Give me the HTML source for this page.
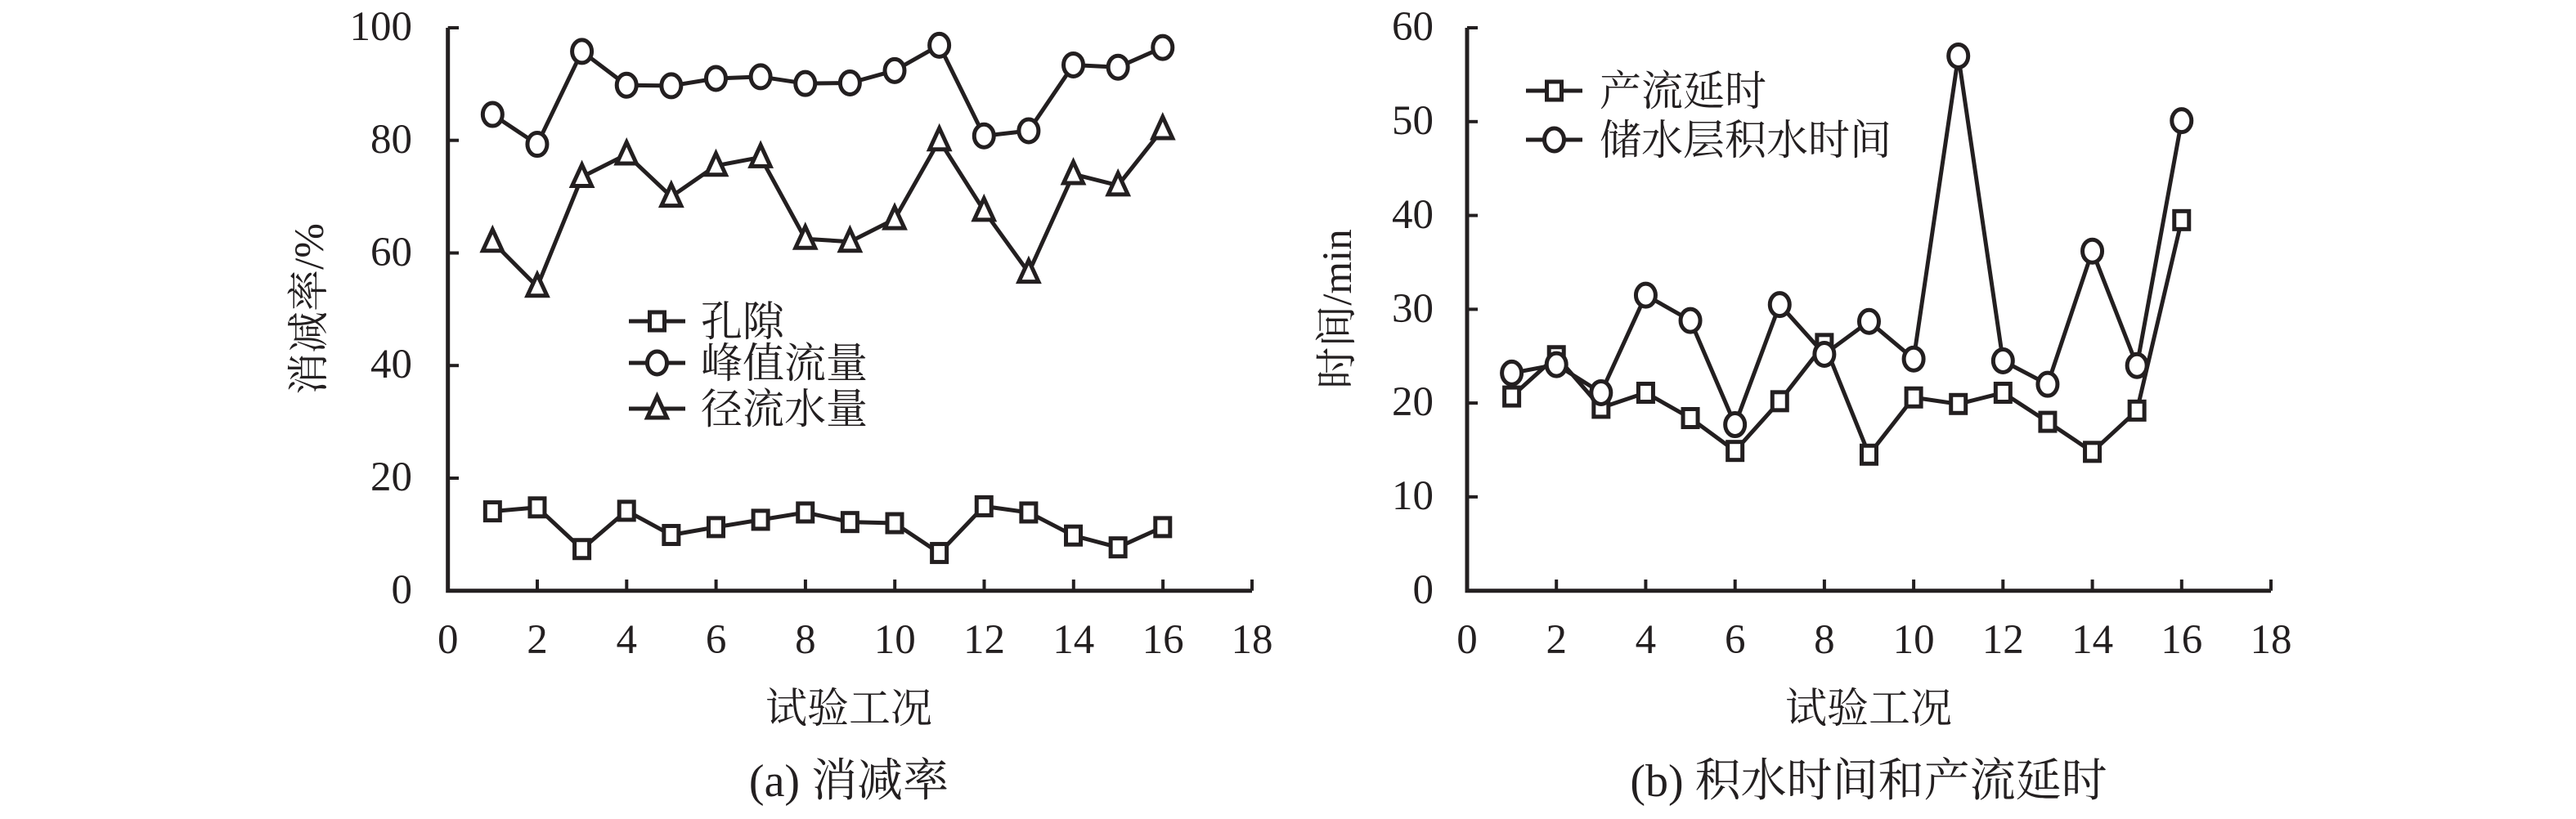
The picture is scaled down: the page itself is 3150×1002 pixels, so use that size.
<!DOCTYPE html>
<html><head><meta charset="utf-8"><style>
html,body{margin:0;padding:0;background:#fff;}
svg{display:block;}
text{font-family:"Liberation Serif","Noto Serif CJK SC",serif;fill:#231f20;}
</style></head><body>
<svg width="3150" height="1002" viewBox="0 0 3150 1002" xmlns="http://www.w3.org/2000/svg">
<g id="left">
<path d="M547.7 34 V722.7 H1531" fill="none" stroke="#231f20" stroke-width="5"/>
<g stroke="#231f20" stroke-width="4">
<line x1="547.7" y1="34" x2="561" y2="34"/><line x1="547.7" y1="171.7" x2="561" y2="171.7"/><line x1="547.7" y1="309.5" x2="561" y2="309.5"/><line x1="547.7" y1="447.2" x2="561" y2="447.2"/><line x1="547.7" y1="585" x2="561" y2="585"/>
<line x1="657" y1="722.7" x2="657" y2="709"/><line x1="766.3" y1="722.7" x2="766.3" y2="709"/><line x1="875.6" y1="722.7" x2="875.6" y2="709"/><line x1="984.9" y1="722.7" x2="984.9" y2="709"/><line x1="1094.2" y1="722.7" x2="1094.2" y2="709"/><line x1="1203.5" y1="722.7" x2="1203.5" y2="709"/><line x1="1312.8" y1="722.7" x2="1312.8" y2="709"/><line x1="1422.1" y1="722.7" x2="1422.1" y2="709"/><line x1="1531" y1="722.7" x2="1531" y2="709"/>
</g>
<g font-size="51" text-anchor="end">
<text x="504" y="49">100</text><text x="504" y="187">80</text><text x="504" y="325">60</text><text x="504" y="462">40</text><text x="504" y="600">20</text><text x="504" y="738">0</text>
</g>
<g font-size="51" text-anchor="middle">
<text x="547.7" y="799">0</text><text x="657" y="799">2</text><text x="766.3" y="799">4</text><text x="875.6" y="799">6</text><text x="984.9" y="799">8</text><text x="1094.2" y="799">10</text><text x="1203.5" y="799">12</text><text x="1312.8" y="799">14</text><text x="1422.1" y="799">16</text><text x="1531" y="799">18</text>
</g>
<text font-size="51" text-anchor="middle" transform="translate(395,378) rotate(-90)">消减率/%</text>
<text font-size="51" x="1038" y="884" text-anchor="middle">试验工况</text>
<text font-size="56" x="1038" y="974" text-anchor="middle">(a) 消减率</text>
</g>
<g id="right">
<path d="M1794 34 V722.7 H2777" fill="none" stroke="#231f20" stroke-width="5"/>
<g stroke="#231f20" stroke-width="4">
<line x1="1794" y1="34" x2="1807" y2="34"/><line x1="1794" y1="148.8" x2="1807" y2="148.8"/><line x1="1794" y1="263.6" x2="1807" y2="263.6"/><line x1="1794" y1="378.4" x2="1807" y2="378.4"/><line x1="1794" y1="493.1" x2="1807" y2="493.1"/><line x1="1794" y1="607.9" x2="1807" y2="607.9"/>
<line x1="1903.2" y1="722.7" x2="1903.2" y2="709"/><line x1="2012.4" y1="722.7" x2="2012.4" y2="709"/><line x1="2121.7" y1="722.7" x2="2121.7" y2="709"/><line x1="2230.9" y1="722.7" x2="2230.9" y2="709"/><line x1="2340.1" y1="722.7" x2="2340.1" y2="709"/><line x1="2449.3" y1="722.7" x2="2449.3" y2="709"/><line x1="2558.6" y1="722.7" x2="2558.6" y2="709"/><line x1="2667.8" y1="722.7" x2="2667.8" y2="709"/><line x1="2777" y1="722.7" x2="2777" y2="709"/>
</g>
<g font-size="51" text-anchor="end">
<text x="1753" y="49">60</text><text x="1753" y="164">50</text><text x="1753" y="279">40</text><text x="1753" y="394">30</text><text x="1753" y="508">20</text><text x="1753" y="623">10</text><text x="1753" y="738">0</text>
</g>
<g font-size="51" text-anchor="middle">
<text x="1794" y="799">0</text><text x="1903.2" y="799">2</text><text x="2012.4" y="799">4</text><text x="2121.7" y="799">6</text><text x="2230.9" y="799">8</text><text x="2340.1" y="799">10</text><text x="2449.3" y="799">12</text><text x="2558.6" y="799">14</text><text x="2667.8" y="799">16</text><text x="2777" y="799">18</text>
</g>
<text font-size="51" text-anchor="middle" transform="translate(1652,378) rotate(-90)">时间/min</text>
<text font-size="51" x="2285" y="884" text-anchor="middle">试验工况</text>
<text font-size="56" x="2285" y="974" text-anchor="middle">(b) 积水时间和产流延时</text>
</g>
<g id="series"></g>
</svg>
<script>
(function(){
var NS="http://www.w3.org/2000/svg",g=document.getElementById("series");
function el(t,a){var e=document.createElementNS(NS,t);for(var k in a)e.setAttribute(k,a[k]);g.appendChild(e);return e;}
function mk(type,x,y){
 var s={fill:"#fff",stroke:"#231f20","stroke-width":5};
 if(type=="s"){s.x=x-9;s.y=y-11;s.width=18;s.height=22;el("rect",s);}
 else if(type=="c"){s.cx=x;s.cy=y;s.rx=12;s.ry=14;el("ellipse",s);}
 else {s.points=(x)+","+(y-15)+" "+(x-12)+","+(y+11)+" "+(x+12)+","+(y+11);el("polygon",s);}
}
function series(x0,ux,y0,uy,data,type){
 var pts=data.map(function(v,i){return [x0+(i+1)*ux,y0-v*uy];});
 el("polyline",{points:pts.map(function(p){return p.join(",")}).join(" "),fill:"none",stroke:"#231f20","stroke-width":5,"stroke-linejoin":"round"});
 pts.forEach(function(p){mk(type,p[0],p[1]);});
}
var L=[547.7,54.63,722.7,6.887];
series(L[0],L[1],L[2],L[3],[84.6,79.3,95.8,89.8,89.7,91,91.3,90.1,90.2,92.4,96.9,80.8,81.7,93.4,93,96.5],"c");
series(L[0],L[1],L[2],L[3],[62,54,73.5,77.5,70,75.5,77,62.5,62,66,80,67.5,56.5,74,72,82],"t");
series(L[0],L[1],L[2],L[3],[14.1,14.8,7.4,14.2,9.9,11.3,12.6,13.9,12.2,12,6.7,15,13.9,9.8,7.7,11.3],"s");
var R=[1794,54.61,722.7,11.478];
series(R[0],R[1],R[2],R[3],[20.7,25,19.5,21.1,18.4,14.9,20.2,26.3,14.5,20.6,19.9,21.1,18,14.8,19.2,39.5],"s");
series(R[0],R[1],R[2],R[3],[23.2,24.1,21.1,31.5,28.8,17.7,30.5,25.2,28.7,24.7,57,24.5,22,36.2,24,50.1],"c");
function leg(x1,x2,y,type,txt,tx){
 el("line",{x1:x1,y1:y,x2:x2,y2:y,stroke:"#231f20","stroke-width":5});
 mk(type,(x1+x2)/2,y);
 var t=el("text",{x:tx,y:y+18,"font-size":51});t.textContent=txt;
}
leg(769,838,393,"s","孔隙",857);
leg(769,838,444,"c","峰值流量",857);
leg(769,838,500,"t","径流水量",857);
leg(1866,1935,111,"s","产流延时",1956);
leg(1866,1935,171,"c","储水层积水时间",1956);
})();
</script>
</body></html>
